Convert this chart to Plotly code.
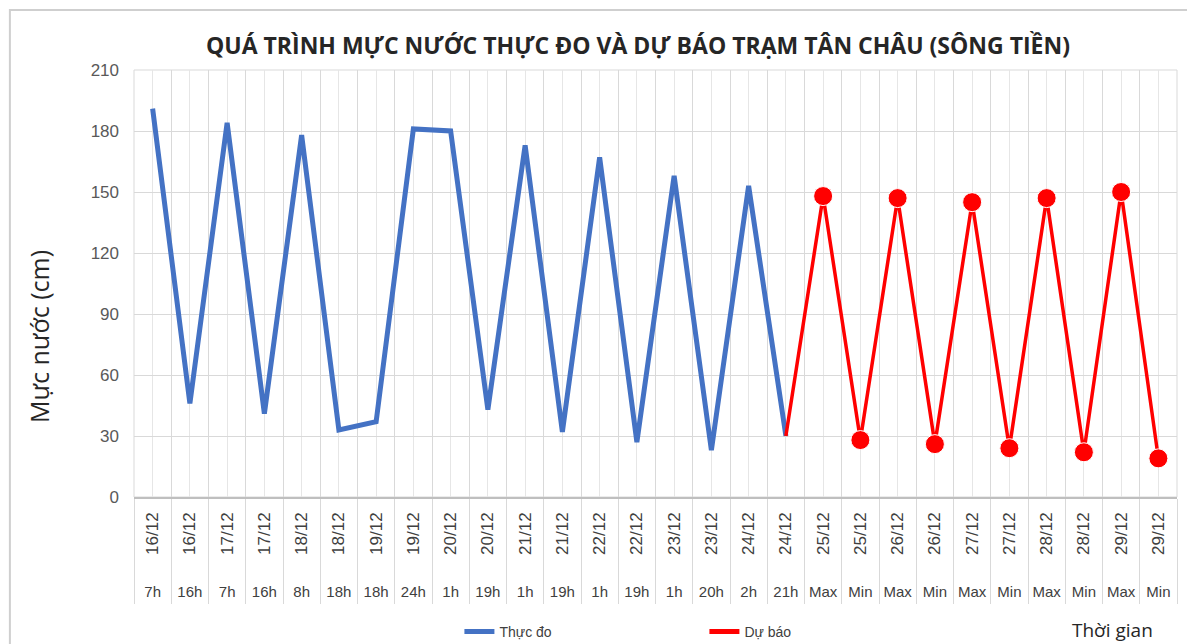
import plotly.graph_objects as go

dates = ["16/12", "16/12", "17/12", "17/12", "18/12", "18/12", "19/12", "19/12", "20/12", "20/12",
         "21/12", "21/12", "22/12", "22/12", "23/12", "23/12", "24/12", "24/12",
         "25/12", "25/12", "26/12", "26/12", "27/12", "27/12", "28/12", "28/12", "29/12", "29/12"]
hours = ["7h", "16h", "7h", "16h", "8h", "18h", "18h", "24h", "1h", "19h",
         "1h", "19h", "1h", "19h", "1h", "20h", "2h", "21h",
         "Max", "Min", "Max", "Min", "Max", "Min", "Max", "Min", "Max", "Min"]

observed = [191, 46, 184, 41, 178, 33, 37, 181, 180, 43, 173, 32, 167, 27, 158, 23, 153, 30]
forecast = [30, 148, 28, 147, 26, 145, 24, 147, 22, 150, 19]   # starts at the last observed point

n = len(dates)
idx = list(range(n))
obs_x = idx[:len(observed)]
fc_x = idx[len(observed) - 1:]
fc_marker_size = [0] + [19] * (len(forecast) - 1)

GRID = "#d9d9d9"
FONT = "Liberation Sans"
TFONT = "Open Sans"

fig = go.Figure()
fig.add_trace(go.Scatter(x=obs_x, y=observed, mode="lines", name="Thực đo",
                         line=dict(color="#4472C4", width=5)))
fig.add_trace(go.Scatter(x=fc_x, y=forecast, mode="lines+markers", name="Dự báo",
                         line=dict(color="#FF0000", width=3.5),
                         marker=dict(color="#FF0000", size=fc_marker_size, opacity=1),
                         showlegend=False))
fig.add_trace(go.Scatter(x=[None], y=[None], mode="lines", name="Dự báo",
                         line=dict(color="#FF0000", width=5)))
# empty traces so the two label axes are drawn
fig.add_trace(go.Scatter(x=idx, y=[None] * n, xaxis="x2", mode="lines", showlegend=False, hoverinfo="skip"))
fig.add_trace(go.Scatter(x=idx, y=[None] * n, xaxis="x3", mode="lines", showlegend=False, hoverinfo="skip"))

boundaries = [i - 0.5 for i in range(n + 1)]
rng = [-0.5, n - 0.5]

FIG_H = 636
# page has an 8px body margin, so the figure is shifted by 8px
fig.update_layout(
    width=1187, height=FIG_H,
    margin=dict(l=126, r=18, t=62, b=147),
    paper_bgcolor="white", plot_bgcolor="white",
    font=dict(family=FONT, color="#404040"),
    showlegend=True,
    legend=dict(orientation="h", xref="paper", x=0.312, yref="container", y=1 - (632 - 8) / FIG_H,
                xanchor="left", yanchor="middle",
                font=dict(size=14, color="#404040"), entrywidth=200, entrywidthmode="pixels"),
    xaxis=dict(range=rng, tickmode="array", tickvals=boundaries, showticklabels=False,
               ticks="outside", ticklen=105, tickcolor=GRID, tickwidth=1,
               showgrid=True, gridcolor=GRID, gridwidth=1,
               minor=dict(tickmode="linear", tick0=0, dtick=1, showgrid=True, gridcolor="#e6e6e6", ticks=""),
               showline=True, linecolor="#bfbfbf", linewidth=1.5, mirror=False, zeroline=False,
               automargin=False),
    xaxis2=dict(range=rng, overlaying="x", anchor="y", side="bottom", tickmode="array",
                tickvals=idx, ticktext=dates, tickangle=-90, showgrid=False, showline=False,
                zeroline=False, ticks="", ticklabelstandoff=11, automargin=False,
                tickfont=dict(size=17, color="#404040")),
    xaxis3=dict(range=rng, overlaying="x", anchor="y", side="bottom", tickmode="array",
                tickvals=idx, ticktext=hours, tickangle=0, showgrid=False, showline=False,
                zeroline=False, ticks="", ticklabelstandoff=84, automargin=False,
                tickfont=dict(size=15, color="#404040")),
    yaxis=dict(range=[0, 210], dtick=30, tick0=0, showgrid=True, gridcolor=GRID, gridwidth=1,
               zeroline=False, showline=False, ticks="", ticklabelstandoff=14, automargin=False,
               tickfont=dict(size=17, color="#595959")),
)

# plot-area frame
fig.add_shape(type="rect", xref="paper", yref="paper", x0=0, x1=1, y0=0, y1=1,
              line=dict(color=GRID, width=1), layer="below")
# chart outer border
fig.add_shape(type="rect", xref="paper", yref="paper", x0=-0.119, x1=1.0125, y0=-0.6, y1=1.1405,
              line=dict(color="#cfcfcf", width=2))

fig.add_annotation(text="<b>QUÁ TRÌNH MỰC NƯỚC THỰC ĐO VÀ DỰ BÁO TRẠM TÂN CHÂU (SÔNG TIỀN)</b>",
                   xref="paper", yref="paper", x=0.483, y=(497 - 45) / 427,
                   xanchor="center", yanchor="middle", showarrow=False,
                   font=dict(size=23, color="#262626", family=TFONT))
# y-axis title (placed off-centre, as in the original)
fig.add_annotation(text="Mực nước (cm)", xref="paper", yref="paper", textangle=-90,
                   x=(39 - 134) / 1043, y=(497 - 337) / 427,
                   xanchor="center", yanchor="middle", showarrow=False,
                   font=dict(size=25, color="#262626", family=TFONT))
fig.add_annotation(text="Thời gian", xref="paper", yref="paper",
                   x=(1112 - 134) / 1043, y=-(630 - 497) / 427,
                   xanchor="center", yanchor="middle", showarrow=False,
                   font=dict(size=19, color="#262626", family=TFONT))

fig.write_html("out.html")
